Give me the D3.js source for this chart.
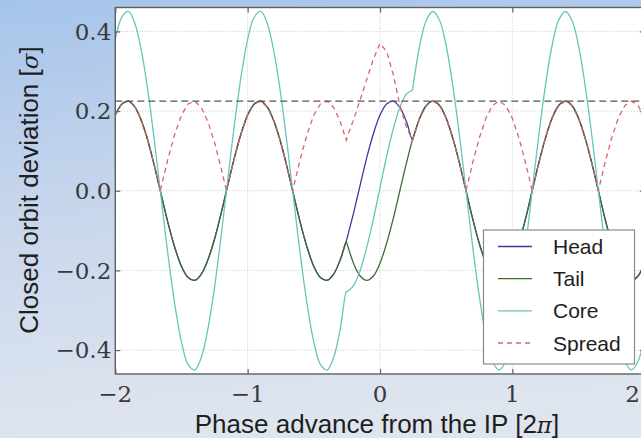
<!DOCTYPE html>
<html>
<head>
<meta charset="utf-8">
<script src="https://cdn.jsdelivr.net/npm/d3@7"></script>
<style>
  html, body { margin: 0; padding: 0; background: #dfe5ef; }
  svg { display: block; }
</style>
</head>
<body>
<svg id="chart" width="641" height="438"></svg>
<script>
// ---------------- data ----------------
const phase = [-2.00,-1.95,-1.90,-1.85,-1.80,-1.75,-1.70,-1.66,-1.65,-1.60,
  -1.55,-1.50,-1.45,-1.40,-1.35,-1.30,-1.25,-1.20,-1.16,-1.15,
  -1.10,-1.05,-1.00,-0.95,-0.90,-0.85,-0.80,-0.75,-0.70,-0.66,
  -0.65,-0.60,-0.55,-0.50,-0.45,-0.40,-0.35,-0.30,-0.255,-0.25,
  -0.20,-0.15,-0.10,-0.05,0.00,0.05,0.10,0.15,0.20,0.245,
  0.25,0.30,0.35,0.40,0.45,0.50,0.55,0.60,0.65,0.70,
  0.75,0.80,0.85,0.90,0.95,1.00,1.05,1.10,1.15,1.20,
  1.25,1.30,1.35,1.40,1.45,1.50,1.55,1.60,1.65,1.70,
  1.75,1.80,1.85,1.90,1.95,2.00];

const head = [0.190,0.218,0.225,0.209,0.173,0.121,0.056,0,-0.014,-0.083,
  -0.143,-0.190,-0.218,-0.225,-0.209,-0.173,-0.121,-0.056,0,0.014,
  0.083,0.143,0.190,0.218,0.225,0.209,0.173,0.121,0.056,0,
  -0.014,-0.083,-0.143,-0.190,-0.218,-0.225,-0.209,-0.173,-0.127,-0.121,
  -0.056,0.014,0.083,0.143,0.190,0.218,0.225,0.209,0.173,0.127,
  0.132,0.182,0.214,0.225,0.214,0.182,0.132,0.070,0,-0.070,
  -0.132,-0.182,-0.214,-0.225,-0.214,-0.182,-0.132,-0.070,0,0.070,
  0.132,0.182,0.214,0.225,0.214,0.182,0.132,0.070,0,-0.070,
  -0.132,-0.182,-0.214,-0.225,-0.214,-0.182];

const tail = [0.190,0.218,0.225,0.209,0.173,0.121,0.056,0,-0.014,-0.083,
  -0.143,-0.190,-0.218,-0.225,-0.209,-0.173,-0.121,-0.056,0,0.014,
  0.083,0.143,0.190,0.218,0.225,0.209,0.173,0.121,0.056,0,
  -0.014,-0.083,-0.143,-0.190,-0.218,-0.225,-0.209,-0.173,-0.127,-0.132,
  -0.182,-0.214,-0.225,-0.214,-0.182,-0.132,-0.070,0,0.070,0.127,
  0.132,0.182,0.214,0.225,0.214,0.182,0.132,0.070,0,-0.070,
  -0.132,-0.182,-0.214,-0.225,-0.214,-0.182,-0.132,-0.070,0,0.070,
  0.132,0.182,0.214,0.225,0.214,0.182,0.132,0.070,0,-0.070,
  -0.132,-0.182,-0.214,-0.225,-0.214,-0.182];

const core = [0.380,0.436,0.450,0.418,0.346,0.242,0.112,0,-0.028,-0.166,
  -0.286,-0.380,-0.436,-0.450,-0.418,-0.346,-0.242,-0.112,0,0.028,
  0.166,0.286,0.380,0.436,0.450,0.418,0.346,0.242,0.112,0,
  -0.028,-0.166,-0.286,-0.380,-0.436,-0.450,-0.418,-0.346,-0.253,-0.253,
  -0.238,-0.200,-0.142,-0.071,0.008,0.086,0.155,0.209,0.243,0.253,
  0.264,0.364,0.428,0.450,0.428,0.364,0.264,0.140,0,-0.140,
  -0.264,-0.364,-0.428,-0.450,-0.428,-0.364,-0.264,-0.140,0,0.140,
  0.264,0.364,0.428,0.450,0.428,0.364,0.264,0.140,0,-0.140,
  -0.264,-0.364,-0.428,-0.450,-0.428,-0.364];

const spread = [0.190,0.218,0.225,0.209,0.173,0.121,0.056,0,0.014,0.083,
  0.143,0.190,0.218,0.225,0.209,0.173,0.121,0.056,0,0.014,
  0.083,0.143,0.190,0.218,0.225,0.209,0.173,0.121,0.056,0,
  0.014,0.083,0.143,0.190,0.218,0.225,0.209,0.173,0.127,0.133,
  0.178,0.228,0.280,0.330,0.370,0.350,0.292,0.215,0.160,0.127,
  0.132,0.182,0.214,0.225,0.214,0.182,0.132,0.070,0,0.070,
  0.132,0.182,0.214,0.225,0.214,0.182,0.132,0.070,0,0.070,
  0.132,0.182,0.214,0.225,0.214,0.182,0.132,0.070,0,0.070,
  0.132,0.182,0.214,0.225,0.214,0.182];

const refLevel = 0.225;
const seriesNames = ["Head", "Tail", "Core", "Spread"];
const xTicks = [-2, -1, 0, 1, 2];
const yTicks = [-0.4, -0.2, 0.0, 0.2, 0.4];
const xDomain = [-2, 2];
const yDomain = [-0.46, 0.46];

// ---------------- drawing ----------------
const svg = d3.select("#chart");
const W = 641, H = 438;
const plot = { left: 115.3, right: 644.7, top: 7.5, bottom: 374 };

const defs = svg.append("defs");
const grad = defs.append("linearGradient").attr("id", "bg")
  .attr("x1", 0).attr("y1", 0).attr("x2", 0.15).attr("y2", 1);
grad.append("stop").attr("offset", "0%").attr("stop-color", "#a6c4ea");
grad.append("stop").attr("offset", "45%").attr("stop-color", "#c6d5ec");
grad.append("stop").attr("offset", "100%").attr("stop-color", "#dfe5ef");
defs.append("clipPath").attr("id", "clip").append("rect")
  .attr("x", plot.left).attr("y", plot.top)
  .attr("width", plot.right - plot.left).attr("height", plot.bottom - plot.top);

svg.append("rect").attr("width", W).attr("height", H).attr("fill", "url(#bg)");
svg.append("rect").attr("x", plot.left).attr("y", plot.top)
  .attr("width", plot.right - plot.left).attr("height", plot.bottom - plot.top)
  .attr("fill", "#ffffff");

const x = d3.scaleLinear().domain(xDomain).range([plot.left, plot.right]);
const y = d3.scaleLinear().domain(yDomain).range([plot.bottom, plot.top]);

// grid
const grid = svg.append("g");
grid.selectAll(".gx").data(xTicks).join("line")
  .attr("x1", d => x(d)).attr("x2", d => x(d))
  .attr("y1", plot.top).attr("y2", plot.bottom)
  .attr("stroke", "#c4c4c4").attr("stroke-width", 1).attr("stroke-dasharray", "1,2");
grid.selectAll(".gy").data(yTicks).join("line")
  .attr("x1", plot.left).attr("x2", plot.right)
  .attr("y1", d => y(d)).attr("y2", d => y(d))
  .attr("stroke", "#c4c4c4").attr("stroke-width", 1).attr("stroke-dasharray", "1,2");

// series
const series = [
  { name: "Head", values: head, color: "#3a3c9c", dash: null, curve: d3.curveCatmullRom.alpha(0.5) },
  { name: "Tail", values: tail, color: "#3f6a36", dash: null, curve: d3.curveCatmullRom.alpha(0.5) },
  { name: "Core", values: core, color: "#66c6bc", dash: null, curve: d3.curveCatmullRom.alpha(0.5) },
  { name: "Spread", values: spread, color: "#dc6464", dash: "5,4", curve: d3.curveLinear }
];

const g = svg.append("g").attr("clip-path", "url(#clip)");
series.forEach(s => {
  const line = d3.line().x((d, i) => x(phase[i])).y(d => y(d)).curve(s.curve);
  g.append("path").datum(s.values)
    .attr("d", line).attr("fill", "none")
    .attr("stroke", s.color).attr("stroke-width", 1.3)
    .attr("stroke-dasharray", s.dash);
});

// reference dashed line
g.append("line")
  .attr("x1", x(xDomain[0])).attr("x2", x(xDomain[1]))
  .attr("y1", y(refLevel)).attr("y2", y(refLevel))
  .attr("stroke", "#555").attr("stroke-width", 1.3).attr("stroke-dasharray", "7,4");

// frame
svg.append("rect").attr("x", plot.left).attr("y", plot.top)
  .attr("width", plot.right - plot.left).attr("height", plot.bottom - plot.top)
  .attr("fill", "none").attr("stroke", "#606060").attr("stroke-width", 1.4);

// ticks (inward) via axes
const axB = svg.append("g").attr("transform", `translate(0,${plot.bottom})`)
  .call(d3.axisBottom(x).tickValues(xTicks).tickSize(-5).tickFormat(""));
const axT = svg.append("g").attr("transform", `translate(0,${plot.top})`)
  .call(d3.axisTop(x).tickValues(xTicks).tickSize(-5).tickFormat(""));
const axL = svg.append("g").attr("transform", `translate(${plot.left},0)`)
  .call(d3.axisLeft(y).tickValues(yTicks).tickSize(-5).tickFormat(""));
const axR = svg.append("g").attr("transform", `translate(${plot.right},0)`)
  .call(d3.axisRight(y).tickValues(yTicks).tickSize(-5).tickFormat(""));
[axB, axT, axL, axR].forEach(a => {
  a.select(".domain").remove();
  a.selectAll(".tick line").attr("stroke", "#606060").attr("stroke-width", 1.2);
});

// tick labels
const fmtY = d3.format(".1f");
const fmtX = d3.format("d");
svg.append("g").selectAll("text").data(yTicks).join("text")
  .attr("x", plot.left - 4).attr("y", d => y(d) + 8.4)
  .attr("text-anchor", "end")
  .attr("font-family", "DejaVu Serif").attr("font-size", 23)
  .attr("fill", "#3a3a3a")
  .text(d => fmtY(d));
svg.append("g").selectAll("text").data(xTicks).join("text")
  .attr("x", d => Math.min(x(d), W - 1))
  .attr("y", 402)
  .attr("text-anchor", d => x(d) + 8 > W ? "end" : "middle")
  .attr("font-family", "DejaVu Serif").attr("font-size", 23)
  .attr("fill", "#3a3a3a")
  .text(d => fmtX(d));

// axis titles
const xt = svg.append("text").attr("x", 377).attr("y", 433)
  .attr("text-anchor", "middle")
  .attr("font-family", "Liberation Sans, Arial, sans-serif").attr("font-size", 26)
  .attr("fill", "#1e1e1e");
xt.append("tspan").text("Phase advance from the IP [2");
xt.append("tspan").attr("font-family", "DejaVu Serif").attr("font-style", "italic").attr("font-size", 23).text("π");
xt.append("tspan").text("]");

const yt = svg.append("text")
  .attr("transform", "translate(37.5,190) rotate(-90)")
  .attr("text-anchor", "middle")
  .attr("font-family", "Liberation Sans, Arial, sans-serif").attr("font-size", 26)
  .attr("fill", "#1e1e1e");
yt.append("tspan").text("Closed orbit deviation [");
yt.append("tspan").attr("font-family", "DejaVu Serif").attr("font-style", "italic").attr("font-size", 23).text("σ");
yt.append("tspan").text("]");

// legend
const leg = svg.append("g");
leg.append("rect").attr("x", 483.5).attr("y", 230).attr("width", 151).attr("height", 134)
  .attr("fill", "#ffffff").attr("stroke", "#8a8a8a").attr("stroke-width", 1.2);
const legY = d3.scalePoint().domain(seriesNames).range([246.5, 343]);
series.forEach(s => {
  const yy = legY(s.name);
  leg.append("line").attr("x1", 498).attr("x2", 532).attr("y1", yy).attr("y2", yy)
    .attr("stroke", s.color).attr("stroke-width", 1.3).attr("stroke-dasharray", s.dash);
  leg.append("text").attr("x", 553).attr("y", yy + 7.5)
    .attr("font-family", "Liberation Sans, Arial, sans-serif").attr("font-size", 21)
    .attr("fill", "#1e1e1e").text(s.name);
});
</script>
</body>
</html>
